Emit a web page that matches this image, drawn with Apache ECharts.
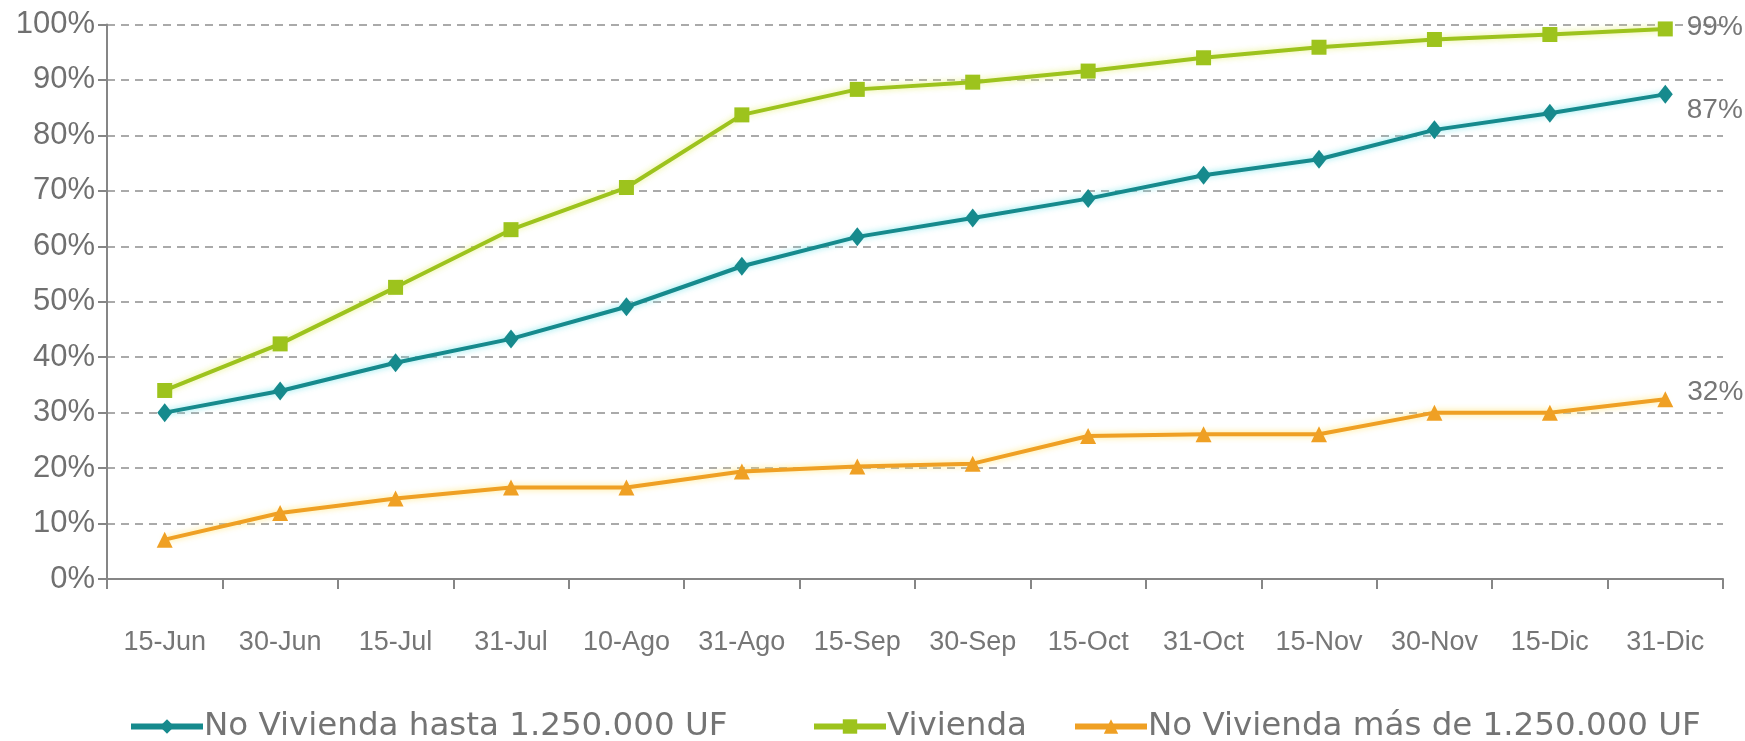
<!DOCTYPE html>
<html>
<head>
<meta charset="utf-8">
<script src="https://cdn.jsdelivr.net/npm/echarts@6/dist/echarts.min.js"></script>
<style>html,body{margin:0;padding:0;background:#fff;}#c{position:relative;z-index:2;width:1745px;height:741px;background:#fff;}#d{position:absolute;z-index:1;left:600px;top:250px;font:14px monospace;white-space:pre;color:#fff;}</style>
</head>
<body>
<div id="c"></div>
<div id="d"></div>
<script>
const categories = ['15-Jun','30-Jun','15-Jul','31-Jul','10-Ago','31-Ago','15-Sep','30-Sep','15-Oct','31-Oct','15-Nov','30-Nov','15-Dic','31-Dic'];
const noViviendaHasta = [30, 33.9, 39, 43.3, 49.1, 56.4, 61.7, 65.1, 68.6, 72.8, 75.7, 81, 84, 87.4];
const vivienda = [34, 42.4, 52.6, 63, 70.6, 83.7, 88.3, 89.6, 91.6, 94, 95.9, 97.3, 98.2, 99.2];
const noViviendaMas = [7.1, 11.9, 14.5, 16.5, 16.5, 19.4, 20.3, 20.8, 25.8, 26.1, 26.1, 30, 30, 32.4];
const endLabels = ['87%', '99%', '32%'];
const seriesNames = ['No Vivienda hasta 1.250.000 UF', 'Vivienda', 'No Vivienda más de 1.250.000 UF'];
const colors = ['#168a8d', '#9dc31d', '#efa024'];
const glows = ['rgba(120,230,235,0.9)', 'rgba(230,240,120,0.9)', 'rgba(255,230,120,0.9)'];
const symbols = ['diamond', 'rect', 'triangle'];
const symbolSizes = [[15, 19], 15, 16];
const labelOffsets = [[0, 16], [0, -2], [0, -7]];
function build(values, idx) {
  return values.map((v, i) => i === values.length - 1 ? {value: v, label: {show: true, position: 'right', distance: 14, offset: labelOffsets[idx], formatter: endLabels[idx], color: '#767676', fontSize: 28, fontFamily: 'Liberation Sans'}} : v);
}
const allValues = [noViviendaHasta, vivienda, noViviendaMas];
const chart = echarts.init(document.getElementById('c'));
const legendLefts = [123, 806, 1067];
chart.setOption({
  animation: false,
  grid: {left: 107, right: 22, top: 24.5, bottom: 162, containLabel: false},
  legend: seriesNames.map((n, i) => ({data: [n], left: legendLefts[i], top: 705, itemWidth: 72, itemHeight: 18, itemGap: 0,
    textStyle: {color: '#747474', fontSize: 32.5, fontFamily: 'DejaVu Sans', padding: [0, 0, 0, -4]}, lineStyle: {width: 6}})),
  xAxis: {type: 'category', data: categories, boundaryGap: true,
    axisLine: {show: true, lineStyle: {color: '#868686', width: 2}},
    axisTick: {show: true, length: 10, lineStyle: {color: '#868686', width: 2}},
    axisLabel: {color: '#767676', fontSize: 27, fontFamily: 'Liberation Sans', margin: 50, interval: 0}},
  yAxis: {type: 'value', min: 0, max: 100, interval: 10,
    axisLine: {show: true, lineStyle: {color: '#868686', width: 2}},
    axisTick: {show: true, length: 9, lineStyle: {color: '#868686', width: 2}},
    axisLabel: {color: '#707070', fontSize: 31, fontFamily: 'Liberation Sans', margin: 12, formatter: '{value}%'},
    splitLine: {show: true, lineStyle: {color: '#8f8f8f', width: 1.5, type: [8, 6]}}},
  series: allValues.map((vals, i) => ({name: seriesNames[i], type: 'line', data: build(vals, i), symbol: symbols[i], symbolSize: symbolSizes[i],
    showAllSymbol: true, color: colors[i], lineStyle: {color: colors[i], width: 4, shadowColor: glows[i], shadowBlur: 6}, itemStyle: {color: colors[i]}, z: 3 + i}))
});
const out = [];
chart.getZr().storage.getDisplayList(true).forEach(el => {
  if (el.style && el.style.text && (el.style.text === '100%' || el.style.text === '15-Jun' || el.style.text === '99%')) {
    let p = el, chain = [];
    while (p) { chain.push(p.type + ':' + (p.scaleX||1).toFixed(2)); p = p.parent; }
    out.push(el.style.text + ' font=' + el.style.font + ' chain=' + chain.join('>'));
  }
});
document.getElementById('d').textContent = out.join('\n');
</script>
</body>
</html>
